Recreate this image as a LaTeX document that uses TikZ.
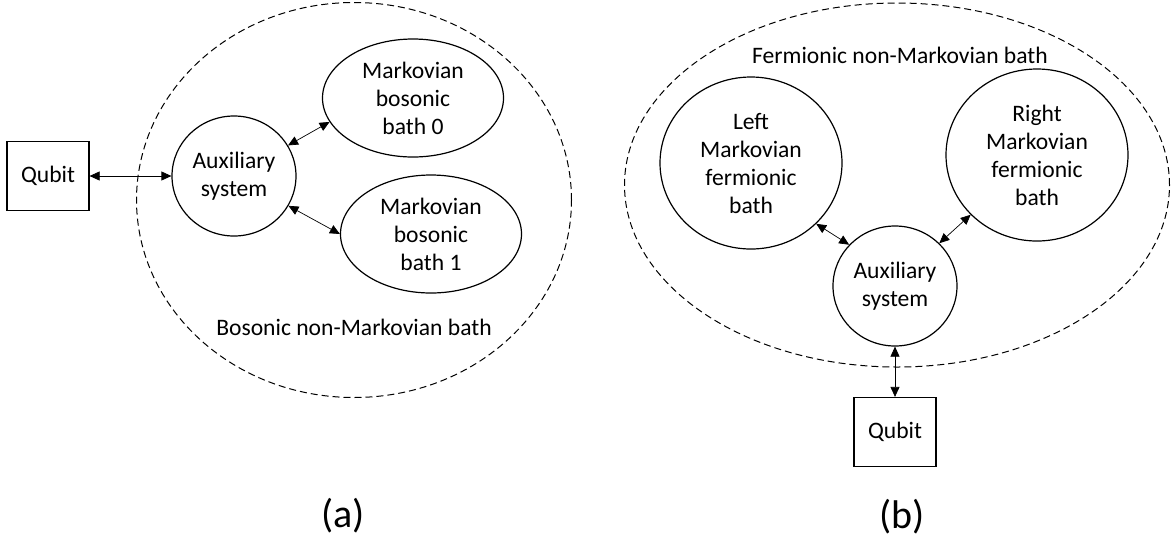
\documentclass[tikz,border=0pt]{standalone}
\usepackage{fontspec}
\setmainfont{Carlito}
\usepackage{tikz}
\usetikzlibrary{shapes.geometric}
\usetikzlibrary{arrows.meta}

\begin{document}
\begin{tikzpicture}[x=0.5pt,y=-0.5pt,font=\fontsize{11.8}{14}\selectfont,qb/.style={draw,line width=0.6pt,rectangle,minimum width=41pt,minimum height=34.5pt,inner sep=0pt},ax/.style={draw,line width=0.6pt,ellipse,minimum width=62pt,minimum height=60pt,inner sep=0pt,align=center},mb/.style={draw,line width=0.6pt,ellipse,minimum width=90.5pt,minimum height=59pt,inner sep=0pt,align=center},nb/.style={draw,line width=0.5pt,ellipse,dash pattern=on 3.5pt off 2pt,inner sep=0pt},lk/.style={line width=0.35pt,{Triangle[length=5pt,width=4.5pt]}-{Triangle[length=5pt,width=4.5pt]}}]
                \useasboundingbox (0,0) rectangle (1173,537);
                \node[nb,minimum width=217.5pt,minimum height=197.5pt] (nma) at (354,200) {};
                \node[qb] (qa) at (48,176) {Qubit};
                \node[ax] (auxa) at (234,176) {Auxiliary\\system};
                \node[mb] (mb0) at (413,98) {Markovian\\bosonic\\bath 0};
                \node[mb] (mb1) at (431,234) {Markovian\\bosonic\\bath 1};
                \node (lba) at (354,327) {Bosonic non-Markovian bath};
                \node[font=\fontsize{20}{24}\selectfont] (capa) at (343,516) {(a)};
                \draw[lk] (qa) -- (auxa);
                \draw[lk] (auxa) -- (mb0.196);
                \draw[lk] (auxa) -- (mb1.west);
                \node[nb,minimum width=272.5pt,minimum height=182pt] (nmb) at (897,185) {};
                \node (lbb) at (900,55) {Fermionic non-Markovian bath};
                \node[mb,minimum width=91pt,minimum height=86pt] (lb) at (751,163) {Left\\Markovian\\fermionic\\bath};
                \node[mb,minimum width=91pt,minimum height=86pt] (rb) at (1037,155) {Right\\Markovian\\fermionic\\bath};
                \node[ax] (auxb) at (895,286) {Auxiliary\\system};
                \node[qb] (qbb) at (895,432) {Qubit};
                \node[font=\fontsize{20}{24}\selectfont] (capb) at (902,517) {(b)};
                \draw[lk] (lb.-43) -- (auxb.138);
                \draw[lk] (auxb.44) -- (rb.222);
                \draw[lk] (auxb) -- (qbb);
\end{tikzpicture}
\end{document}
